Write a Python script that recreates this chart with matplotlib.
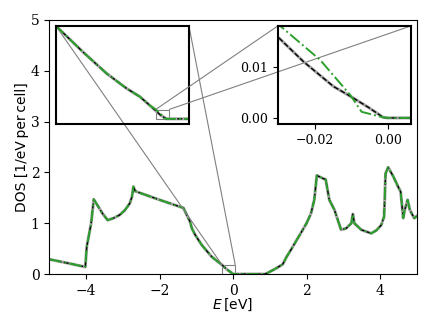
import numpy as np
import matplotlib
matplotlib.use('Agg')
import matplotlib.pyplot as plt
from mpl_toolkits.axes_grid1.inset_locator import mark_inset

# density of states
energy = [-5.0, -4.5, -4.02, -3.98, -3.86, -3.79, -3.55, -3.41, -3.25, -3.09,
          -2.95, -2.81, -2.75, -2.71, -2.66, -2.04, -1.35, -1.17, -1.12, -1.03,
          -0.85, -0.58, -0.30, -0.226, -0.163, -0.109, -0.073, -0.046,
          -0.0298, -0.0232, -0.015, -0.010, -0.0055, -0.0014, 0.0,
          0.88, 1.12, 1.35, 1.45, 1.57, 1.70, 1.84, 2.00, 2.12, 2.21, 2.28,
          2.45, 2.52, 2.62, 2.76, 2.94, 3.08, 3.22, 3.26, 3.30, 3.49, 3.76,
          3.90, 4.03, 4.11, 4.15, 4.22, 4.36, 4.49, 4.56, 4.63, 4.67, 4.75,
          4.81, 4.93, 5.0]
dos = [0.29, 0.215, 0.14, 0.54, 1.00, 1.47, 1.19, 1.06, 1.10, 1.16,
       1.25, 1.39, 1.52, 1.72, 1.63, 1.47, 1.30, 1.03, 0.90, 0.77,
       0.57, 0.34, 0.18, 0.129, 0.088, 0.059, 0.043, 0.026,
       0.0157, 0.0111, 0.0062, 0.0041, 0.0021, 0.0001, 0.0,
       0.0, 0.09, 0.19, 0.33, 0.47, 0.63, 0.80, 1.00, 1.19, 1.46, 1.94,
       1.88, 1.86, 1.46, 1.26, 0.87, 0.90, 1.00, 1.18, 1.00, 0.87, 0.80,
       0.86, 0.96, 1.13, 1.98, 2.10, 1.92, 1.72, 1.62, 1.10, 1.26, 1.46,
       1.26, 1.10, 1.14]

# second curve differs only just below the band edge
energy_edge = [-0.0295, -0.0186, -0.0104, -0.0073, -0.0014, 0.0]
dos_edge = [0.0181, 0.0114, 0.0045, 0.0012, 0.0001, 0.0]

energy = np.array(energy)
dos = np.array(dos)
below = energy < -0.035
above = energy > 0.0
energy2 = np.concatenate([energy[below], energy_edge, energy[above]])
dos2 = np.concatenate([dos[below], dos_edge, dos[above]])

fig = plt.figure(figsize=(4.36, 3.27), dpi=100)
ax = fig.add_axes([0.113, 0.162, 0.843, 0.777])
ax1 = fig.add_axes([0.1284, 0.6208, 0.305, 0.2997])
ax2 = fig.add_axes([0.637, 0.6208, 0.305, 0.2997])

for a in [ax, ax1, ax2]:
    a.plot(energy, dos, color='0.65', lw=2.2)
    a.plot(energy, dos, 'k--', lw=1.0)
    a.plot(energy2, dos2, '-.', color='#2ca02c', lw=1.4)

ax.set_xlim(-5, 5)
ax.set_ylim(0, 5)
ax.set_xticks([-4, -2, 0, 2, 4])
ax.set_yticks([0, 1, 2, 3, 4, 5])
ax.tick_params(labelsize=10, labelfontfamily='DejaVu Serif')
ax.set_xlabel('$E$\u2009[eV]', fontsize=10, labelpad=-1)
ax.set_ylabel('DOS [1/eV\u2009per\u2009cell]', fontsize=10, labelpad=1)

ax1.set_xlim(-0.3, 0.06)
ax1.set_ylim(-0.01, 0.18)
ax1.set_xticks([])
ax1.set_yticks([])

ax2.set_xlim(-0.0302, 0.0061)
ax2.set_ylim(-0.0012, 0.0181)
ax2.set_xticks([-0.02, 0.0])
ax2.set_yticks([0.0, 0.01])
ax2.tick_params(labelsize=9, labelfontfamily='DejaVu Serif')

for a in [ax1, ax2]:
    for s in a.spines.values():
        s.set_linewidth(1.5)

mark_inset(ax, ax1, loc1=1, loc2=2, fc='none', ec='0.5', lw=0.8)
mark_inset(ax1, ax2, loc1=1, loc2=2, fc='none', ec='0.5', lw=0.8)

fig.savefig('out.png', dpi=100)
